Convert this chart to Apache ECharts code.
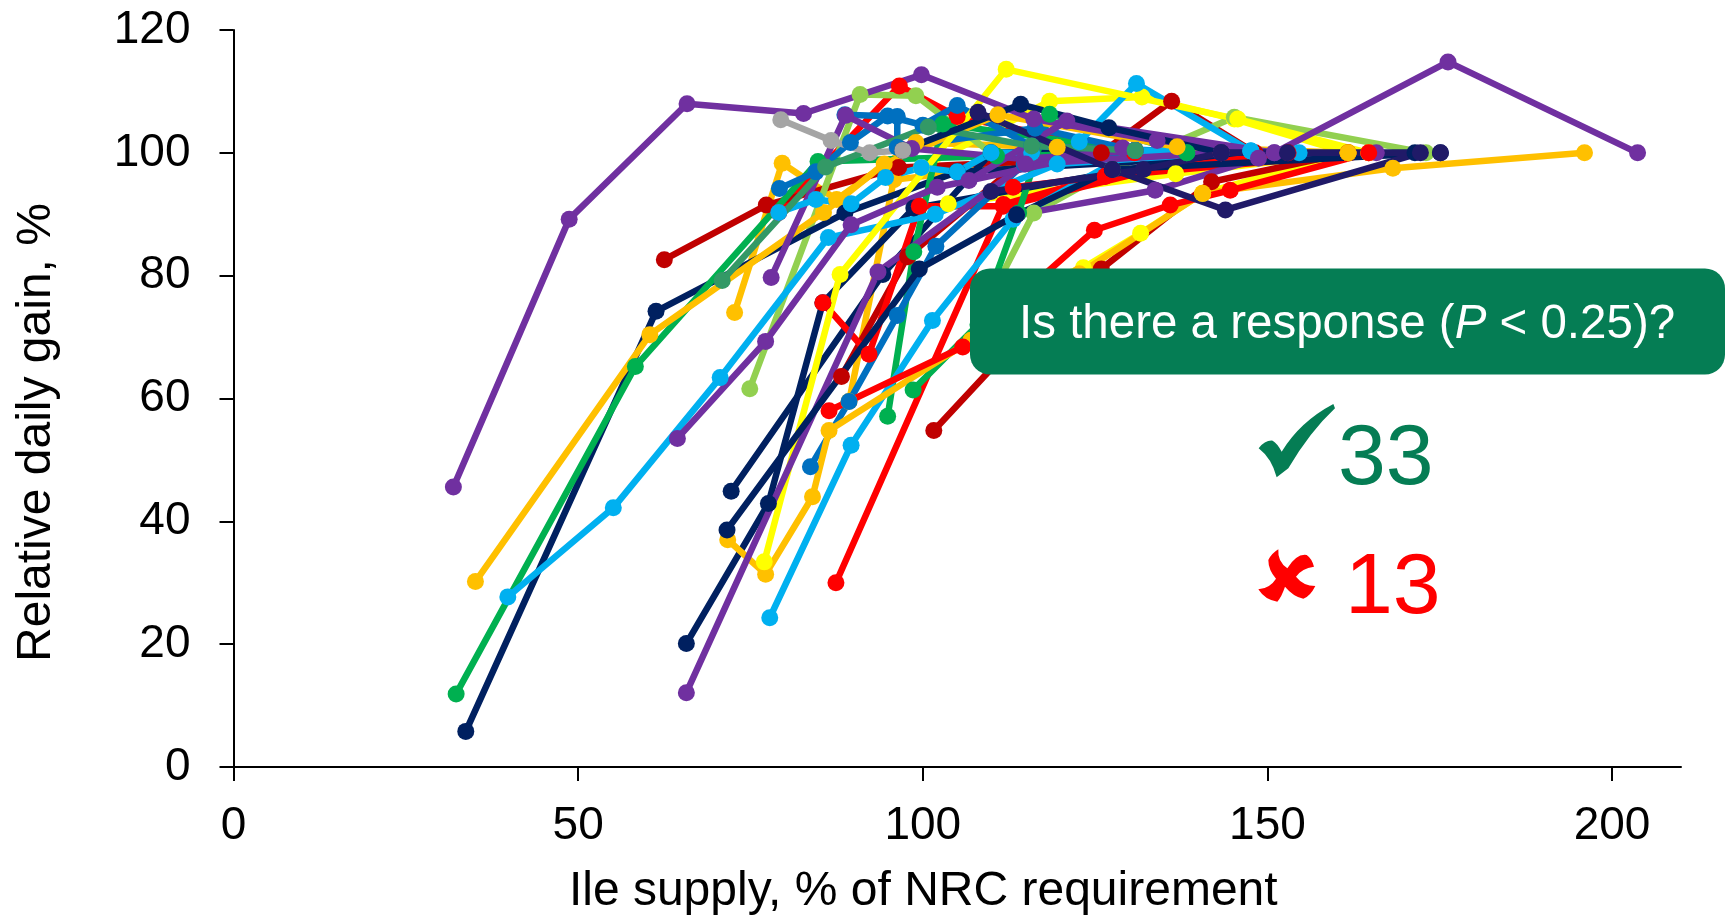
<!DOCTYPE html>
<html><head><meta charset="utf-8">
<style>html,body{margin:0;padding:0;background:#fff}#c{width:1725px;height:915px}</style>
<script src="https://cdn.jsdelivr.net/npm/echarts@6/dist/echarts.min.js"></script>
</head><body><div id="c"></div>
<script>
const PURPLE='#7030A0',ORANGE='#FFC000',RED='#FF0000',DKRED='#C00000',NAVY='#002060',BLUE='#0070C0',LBLUE='#00B0F0',GREEN='#00B050',LGREEN='#92D050',YELLOW='#FFFF00',GRAY='#A5A5A5',SEA='#339966',INDIGO='#201A68';
const xTicks=[0,50,100,150,200];
const orange3=[[72.7,74],[79.6,98.3],[87.5,92.4],[99,101.7],[119.5,100.9],[130.8,100.4]];
const orange4=[[89.3,59.5],[95.8,95.6],[130.8,100.4]];
const red4=[[79.1,90.3],[96.6,110.9],[105,105.9],[130.7,100]];
const dkred3=[[88.2,63.6],[97.8,83.1],[115.8,100],[125.9,100],[136.1,108.4],[148.2,100]];
const dkred1=[[62.5,82.6],[77.3,91.5],[96.5,97.6],[143.3,100]];
const dkred2=[[101.6,54.8],[112.3,67.7],[125.9,81.1],[141.9,95.3],[161.7,100]];
const yellow2=[[99.8,97.6],[118.4,108.4],[131.8,109.1],[145.2,105.5],[161.7,100]];
const yellow3=[[103.7,91.7],[136.7,96.6],[161.7,100]];
const yellow4=[[110,76],[123.3,81.3],[131.6,86.9],[140.6,93.4],[161.7,100]];
const lgreen1=[[74.9,61.6],[90.9,109.5],[99,109.3],[109.9,100],[130.8,100.4]];
const lgreen2=[[109.9,76.7],[116.1,90.2],[127.5,97.3],[145.2,105.8],[173,100]];
const red1=[[87.4,30],[111.7,91.6],[126.5,96.2],[164.7,100]];
const navy2=[[72.2,44.9],[94.2,80.2],[109.9,100],[130.8,100.4]];
const navy3=[[65.7,20.1],[77.6,42.9],[85.5,75.6],[98.7,91],[143.3,100]];
const red2=[[85.5,75.6],[92.2,67.2],[99.5,91.3],[111.7,91.3],[143.3,100]];
const navy1=[[33.7,5.8],[61.3,74.2],[88.7,90.2],[105,96.9],[153,100]];
const green3=[[32.3,11.9],[58.3,65.2],[84.8,98.6],[110.7,99.5],[138.3,100]];
const green1=[[94.9,57.1],[98.7,83.9],[102.9,104.7],[130.8,100.4]];
const green2=[[98.6,61.4],[108,72],[113.9,90.2],[118.4,106.3],[138.3,100]];
const blue1=[[83.7,48.9],[89.3,59.5],[96.3,73.5],[101.9,84.8],[114.7,98.2],[130.8,100.4]];
const blue2=[[79.2,94.2],[84.5,96.9],[89.5,101.7],[94.9,106],[100,104.5],[105,107.7],[115.8,101.1],[143.3,100]];
const blue3=[[88.7,106.2],[96.3,105.9],[96.3,100.9],[116.3,104],[130.8,100.4]];
const lblue3=[[122.7,101.8],[131,111.3],[147.6,100.3],[154.6,100]];
const lblue1=[[39.8,27.7],[55.1,42.2],[70.6,63.4],[86.3,86.2],[101.8,90],[119.5,98.2],[147.6,100.3]];
const lblue2=[[77.8,24.3],[89.6,52.4],[101.4,72.7],[113.1,89.2],[130.8,100.4],[147.6,100.3]];
const orange1=[[35.1,30.2],[60.4,70.4],[85.6,90.3],[94.4,98.2],[110.9,106.2],[136.9,101],[161.7,100]];
const orange2=[[71.7,37],[77.2,31.4],[84,44],[86.4,54.8],[107,69.5],[122.7,80.3],[140.6,93.4],[168.2,97.5],[196,100]];
const yellow1=[[77,33.4],[88,80.2],[112.1,113.6],[145.7,105.5],[164.7,100]];
const purple1=[[31.9,45.6],[48.7,89.2],[65.8,108],[82.7,106.4],[99.8,112.7],[116.1,105.5],[134,102],[151,100],[176.2,114.8],[203.7,100]];
const purple5=[[113.6,89.9],[133.7,93.9],[148.7,99.1],[165.8,100]];
const purple4=[[78,79.7],[88.8,106.1],[98.4,100.7],[114.7,99],[130.8,100.4]];
const red5=[[113.1,94.4],[126.5,96.2],[153,100]];
const red3=[[86.4,58],[105.8,68.4],[124.9,87.4],[135.9,91.5],[144.6,93.9],[164.7,100]];
const lblue4=[[79.1,90.3],[84.5,92.4],[89.6,91.7],[94.6,96],[99.8,97.6],[105,96.9],[109.9,100],[115.8,100]];
const purple2=[[65.7,12.1],[93.5,80.6],[114.9,98.2],[143.3,100]];
const purple3=[[64.4,53.5],[77.2,69.3],[89.6,88.3],[102.1,94.4],[129,100.8]];
const purple6=[[106.7,95.5],[120.9,105.2],[151,100]];
const sea1=[[70.9,79.2],[85.9,97.7],[100.8,104.2],[115.8,101.1],[130.8,100.4]];
const navy4=[[97.1,100.4],[114.2,107.9],[127,104.1],[143.3,100],[171.4,100]];
const gray1=[[79.4,105.4],[86.7,102],[92.3,100],[97.1,100.4]];
const navy5=[[71.6,38.6],[99.5,81.1],[113.6,89.9],[127.5,97.3],[175.1,100]];
const indigo1=[[108,106.6],[127.5,97.3],[143.9,90.7],[172.2,100]];
const indigo2=[[109.9,93.7],[132,97.3],[143.3,100],[152.9,100],[175.1,100]];

const lines=[
 [orange3,ORANGE],[orange4,ORANGE],[red4,RED],[dkred3,DKRED],[dkred1,DKRED],
 [yellow2,YELLOW],[yellow3,YELLOW],[yellow4,YELLOW],[dkred2,DKRED],[lgreen1,LGREEN],[lgreen2,LGREEN],
 [red1,RED],[navy2,NAVY],[navy3,NAVY],[red2,RED],[navy1,NAVY],[green3,GREEN],[green1,GREEN],[green2,GREEN],
 [blue1,BLUE],[blue2,BLUE],[blue3,BLUE],[lblue3,LBLUE],[lblue1,LBLUE],[lblue2,LBLUE],
 [orange1,ORANGE],[orange2,ORANGE],[yellow1,YELLOW],[purple1,PURPLE],[purple5,PURPLE],[purple4,PURPLE],
 [red5,RED],[red3,RED],[lblue4,LBLUE],[purple2,PURPLE],[purple3,PURPLE],[purple6,PURPLE],
 [sea1,SEA],[navy4,NAVY],[gray1,GRAY],[navy5,NAVY],[indigo1,INDIGO],[indigo2,INDIGO]
];
const FONT='"Liberation Sans",Arial,sans-serif';
echarts.graphic.registerShape('tickGlyph',echarts.graphic.extendPath('M176 205 Q195 180 218 182 Q232 190 245 215 Q300 125 400 72 L405 85 Q330 155 265 265 L230 292 Q215 235 176 205 Z',{}));
echarts.graphic.registerShape('crossGlyph',echarts.graphic.extendPath('M235 508 Q232 545 262 565 Q290 520 320 525 Q335 535 342 560 Q305 565 288 590 Q310 618 346 618 Q330 650 310 656 Q280 650 255 620 Q245 650 232 665 Q195 660 175 628 Q210 625 228 596 Q205 570 205 540 Q215 520 235 508 Z',{}));
const chart=echarts.init(document.getElementById('c'),null,{renderer:'canvas'});
chart.setOption({
 animation:false,backgroundColor:'#fff',
 grid:{left:233.5,right:44,top:30,bottom:148,containLabel:false,outerBoundsMode:'none'},
 xAxis:{type:'value',min:0,max:210,
  name:'Ile supply, % of NRC requirement',nameLocation:'middle',nameGap:101,
  nameTextStyle:{fontFamily:FONT,fontSize:48,color:'#000',padding:[0,68,0,0]},
  axisLine:{onZero:false,lineStyle:{color:'#000',width:2}},
  axisTick:{show:true,length:14,lineStyle:{color:'#000',width:2},customValues:xTicks},
  axisLabel:{fontFamily:FONT,fontSize:46,color:'#000',margin:36,customValues:xTicks},
  splitLine:{show:false}},
 yAxis:{type:'value',min:0,max:120,interval:20,
  name:'Relative daily gain, %',nameLocation:'middle',nameGap:173,
  nameTextStyle:{fontFamily:FONT,fontSize:48,color:'#000',padding:[0,68,0,0]},
  axisLine:{show:true,onZero:false,lineStyle:{color:'#000',width:2}},
  axisTick:{show:true,length:14,lineStyle:{color:'#000',width:2}},
  axisLabel:{fontFamily:FONT,fontSize:46,color:'#000',margin:43},
  splitLine:{show:false}},
 series:lines.map(([d,c])=>({type:'line',data:d,symbol:'circle',symbolSize:17,showSymbol:true,
   clip:false,silent:true,lineStyle:{color:c,width:6.5},itemStyle:{color:c}})),
 graphic:[
  {type:'rect',z:100,shape:{x:970,y:268.5,width:755,height:106,r:20},style:{fill:'#057D54'}},
  {type:'text',z:101,x:1019,y:325,style:{text:'{a|Is there a response (}{i|P}{a| < 0.25)?}',rich:{a:{fontFamily:FONT,fontSize:47.5,fill:'#fff',color:'#fff'},i:{fontFamily:FONT,fontSize:47.5,fontStyle:'italic',fill:'#fff',color:'#fff'}},verticalAlign:'middle'}},
  {type:'tickGlyph',z:101,x:1200,y:380,scaleX:1/3,scaleY:1/3,style:{fill:'#057D54'}},
  {type:'crossGlyph',z:101,x:1200,y:380,scaleX:1/3,scaleY:1/3,style:{fill:'#FF0000'}},
  {type:'text',z:101,x:1338,y:503,style:{text:'33',fontFamily:FONT,fontSize:86,fill:'#057D54',verticalAlign:'bottom'}},
  {type:'text',z:101,x:1345,y:632,style:{text:'13',fontFamily:FONT,fontSize:86,fill:'#FF0000',verticalAlign:'bottom'}}
 ]
});
</script></body></html>
